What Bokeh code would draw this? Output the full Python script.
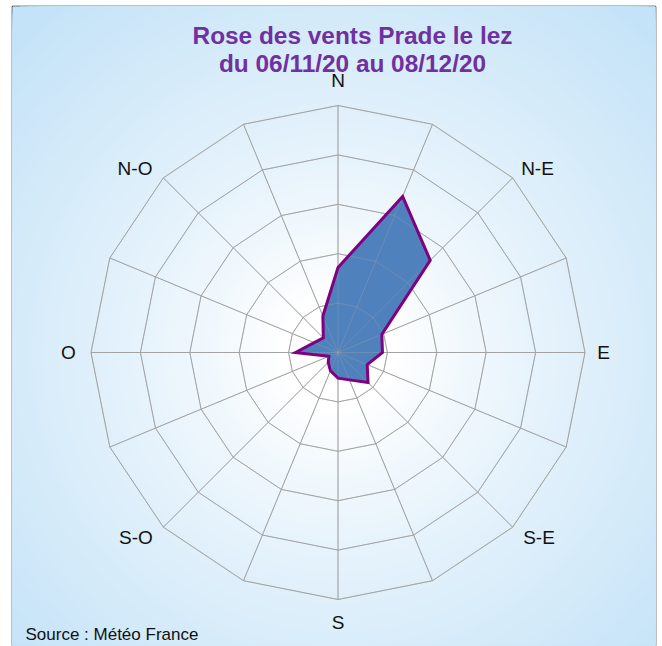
import numpy as np
from bokeh.plotting import figure
from bokeh.models import Range1d, ColumnDataSource
from bokeh.core.properties import value
from bokeh.embed import file_html
from bokeh.resources import INLINE

# ---- data -------------------------------------------------------------
directions = ["N", "NNE", "N-E", "ENE", "E", "ESE", "S-E", "SSE",
              "S", "SSO", "S-O", "OSO", "O", "ONO", "N-O", "NNO"]
frequency = [8.6, 17.1, 13.2, 4.8, 4.5, 3.2, 4.3, 3.0,
             2.6, 2.0, 1.4, 1.0, 4.3, 2.6, 2.1, 4.0]      # % of time
ring_values = [5, 10, 15, 20, 25]
shown_labels = ["N", "N-E", "E", "S-E", "S", "S-O", "O", "N-O"]
title_lines = ["Rose des vents Prade le lez", "du 06/11/20 au 08/12/20"]
source_text = "Source : Météo France"

# ---- layout (pixels) ----------------------------------------------------
W, H = 662, 646
BL, BT, BR, BB = 12, 6, 7, 1            # borders around the framed plot area
FW, FH = W - BL - BR, H - BT - BB
S = 9.88                                # px per % unit
CX, CY = 337.5, 352.0                   # centre in page pixels
# label centre offsets from the centre (px, y up)
label_offsets = [(0, 272), (199.5, 184), (265.5, 0), (201, -185),
                 (0, -270), (-202, -185), (-269.5, 0), (-203, 184)]

fx, fy = CX - BL, CY - BT
n = len(directions)
ang = np.arange(n) * 2 * np.pi / n      # clockwise from north
sx, sy = np.sin(ang), np.cos(ang)

def px(x):
    return (x - CX) / S

def py(y):
    return (CY - y) / S

p = figure(width=W, height=H, output_backend="svg", toolbar_location=None,
           x_range=Range1d(-fx / S, (FW - fx) / S),
           y_range=Range1d(-(FH - fy) / S, fy / S),
           x_axis_type=None, y_axis_type=None,
           min_border_left=BL, min_border_top=BT, min_border_right=BR, min_border_bottom=BB)
p.grid.visible = False
p.outline_line_color = "black"
p.outline_line_width = 1.5
p.background_fill_color = "#c4e3f8"
p.border_fill_color = "white"

# radial background gradient
radii_px = np.arange(480, 0, -5.0)
t = np.clip((radii_px - 60) / 400, 0, 1) ** 0.85
c_out = np.array([196, 227, 248])
cols = ["#%02x%02x%02x" % tuple((255 * (1 - ti) + c_out * ti).astype(int)) for ti in t]
p.circle(x=[0] * len(radii_px), y=[0] * len(radii_px), radius=list(radii_px / S),
         fill_color=cols, line_color=None)

# grid
grid_color = "#a3a3a3"
ring_xs = [list(np.append(r * sx, r * sx[0])) for r in ring_values]
ring_ys = [list(np.append(r * sy, r * sy[0])) for r in ring_values]
rmax = max(ring_values)
spoke_xs = [[0, rmax * a] for a in sx]
spoke_ys = [[0, rmax * b] for b in sy]

def draw_grid(alpha):
    p.multi_line(ring_xs, ring_ys, line_color=grid_color, line_width=1, line_alpha=alpha)
    p.multi_line(spoke_xs, spoke_ys, line_color=grid_color, line_width=1, line_alpha=alpha)

draw_grid(1.0)

f = np.array(frequency)
src = ColumnDataSource(dict(x=[list(f * sx)], y=[list(f * sy)]))
p.patches("x", "y", source=src, fill_color="#4f81bd", line_color=None)
draw_grid(0.35)
p.patches("x", "y", source=src, fill_color=None, line_color="#800080", line_width=3,
          line_join="miter")

# direction labels
p.text(x=[o[0] / S for o in label_offsets], y=[o[1] / S for o in label_offsets],
       text=shown_labels,
       text_font=value("Liberation Sans"), text_font_size="19px", text_color="#111111",
       text_align="center", text_baseline="middle")

# title
p.text(x=[px(352), px(352)], y=[py(35), py(63)], text=title_lines,
       text_font=value("Liberation Sans"), text_font_style="bold", text_font_size="24.4px",
       text_color="#7030a0", text_align="center", text_baseline="alphabetic")

# source
p.text(x=[px(25)], y=[py(634)], text=[source_text],
       text_font=value("Liberation Sans"), text_font_size="17px", text_color="#111111",
       text_align="left", text_baseline="alphabetic")

open("out.html", "w").write(file_html(p, INLINE))
